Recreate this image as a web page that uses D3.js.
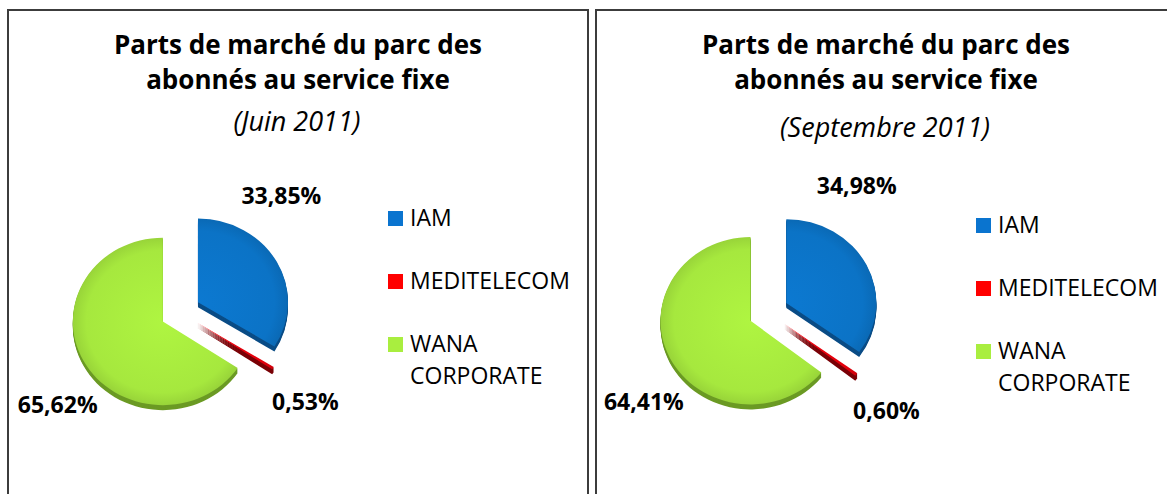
<!DOCTYPE html>
<html lang="fr">
  <head>
    <meta charset="utf-8" />
    <title>Parts de marché du parc des abonnés au service fixe</title>
    <style>
      body {
        margin: 0;
        background: #fff;
        font-family: 'Open Sans', Lato, sans-serif;
      }
    </style>
    <script src="https://d3js.org/d3.v7.min.js"></script>
  </head>
  <body>
    <svg width="1167" height="494"></svg>
    <script>
      // data
      const companies = ['IAM', 'MEDITELECOM', 'WANA CORPORATE'];
      const periods = ['(Juin 2011)', '(Septembre 2011)'];
      const juin2011 = [33.85, 0.53, 65.62];
      const sept2011 = [34.98, 0.6, 64.41];
      const titleLines = ['Parts de marché du parc des', 'abonnés au service fixe'];

      const topColor = ['#0b73c6', '#e3000b', '#a6e83e'];
      const sideColor = ['#0a4c86', '#7a0006', '#6b9a24'];
      const legendColor = ['#0a74cf', '#ff0000', '#a9ee3f'];

      const svg = d3.select('svg');

      // panel frames
      const panels = [
        { x: 8, w: 580, values: juin2011, sub: periods[0], subY: 131, legY: 211,
          labelShift: [-20, 3, -9] },
        { x: 596, w: 590, values: sept2011, sub: periods[1], subY: 137, legY: 218,
          labelShift: [-28, 3, -10] },
      ];

      const R = 90, explode = 20, tilt = 0.93, depth = 5, labelR = 154;
      const pie = d3.pie().sort(null).value((d) => d);
      const arc = d3.arc().innerRadius(0).outerRadius(R);

      const fmt = (v) => v.toFixed(2).replace('.', ',') + '%';

      panels.forEach((p) => {
        const g = svg.append('g').attr('transform', `translate(${p.x},0)`);
        g.append('rect')
          .attr('x', 0).attr('y', 10)
          .attr('width', p.w).attr('height', 520)
          .attr('fill', 'none')
          .attr('stroke', '#3c3c3c')
          .attr('stroke-width', 2);

        const cx = 290;
        g.selectAll('text.title')
          .data(titleLines)
          .join('text')
          .attr('class', 'title')
          .attr('x', cx)
          .attr('y', (d, i) => 54 + i * 35)
          .attr('text-anchor', 'middle')
          .attr('font-weight', 'bold')
          .attr('font-size', 26)
          .attr('fill', '#000')
          .text((d) => d);
        g.append('text')
          .attr('x', cx - 1)
          .attr('y', p.subY)
          .attr('text-anchor', 'middle')
          .attr('font-style', 'italic')
          .attr('font-size', 27)
          .text(p.sub);

        // exploded pie with a little depth
        const arcs = pie(p.values);
        const pc = { x: 172.5, y: 312 };
        const pg = g.append('g')
          .attr('transform', `translate(${pc.x},${pc.y}) scale(1,${tilt})`);
        const off = (d) => {
          const a = (d.startAngle + d.endAngle) / 2;
          return [Math.sin(a) * explode, -Math.cos(a) * explode / tilt];
        };
        for (let k = depth; k >= 1; k--) {
          pg.selectAll(null)
            .data(arcs)
            .join('path')
            .attr('transform', (d) => {
              const [dx, dy] = off(d);
              return `translate(${dx},${dy + k / tilt})`;
            })
            .attr('d', arc)
            .attr('fill', (d, i) => sideColor[i]);
        }
        const defs = svg.append('defs');
        topColor.forEach((c, i) => {
          const gr = defs.append('radialGradient')
            .attr('id', `top${p.x}_${i}`)
            .attr('gradientUnits', 'userSpaceOnUse')
            .attr('cx', 0).attr('cy', 0).attr('r', R);
          gr.append('stop').attr('offset', '0%').attr('stop-color', d3.color(c).brighter(0.15));
          gr.append('stop').attr('offset', '85%').attr('stop-color', c);
          gr.append('stop').attr('offset', '100%').attr('stop-color', d3.color(c).darker(0.25));
        });
        pg.selectAll(null)
          .data(arcs)
          .join('path')
          .attr('transform', (d) => {
            const [dx, dy] = off(d);
            return `translate(${dx},${dy})`;
          })
          .attr('d', arc)
          .attr('fill', (d, i) => `url(#top${p.x}_${i})`);

        // value labels
        g.selectAll(null)
          .data(arcs)
          .join('text')
          .attr('x', (d, i) => {
            const a = (d.startAngle + d.endAngle) / 2 + (p.labelShift[i] * Math.PI) / 180;
            return pc.x + Math.sin(a) * labelR;
          })
          .attr('y', (d, i) => {
            const a = (d.startAngle + d.endAngle) / 2 + (p.labelShift[i] * Math.PI) / 180;
            return pc.y - Math.cos(a) * labelR + 8;
          })
          .attr('text-anchor', 'middle')
          .attr('font-weight', 'bold')
          .attr('font-size', 23)
          .text((d) => fmt(d.data));

        // legend
        const lg = g.append('g').attr('transform', `translate(380,${p.legY})`);
        const rows = lg.selectAll('g')
          .data(companies)
          .join('g')
          .attr('transform', (d, i) => `translate(0,${i * 63})`);
        rows.append('rect')
          .attr('width', 15).attr('height', 15)
          .attr('fill', (d, i) => legendColor[i]);
        rows.append('text')
          .attr('x', 22)
          .attr('y', 15)
          .attr('font-size', 23)
          .selectAll('tspan')
          .data((d) => d.split(' '))
          .join('tspan')
          .attr('x', 22)
          .attr('dy', (d, i) => (i ? 32 : 0))
          .text((d) => d);
      });
    </script>
  </body>
</html>
